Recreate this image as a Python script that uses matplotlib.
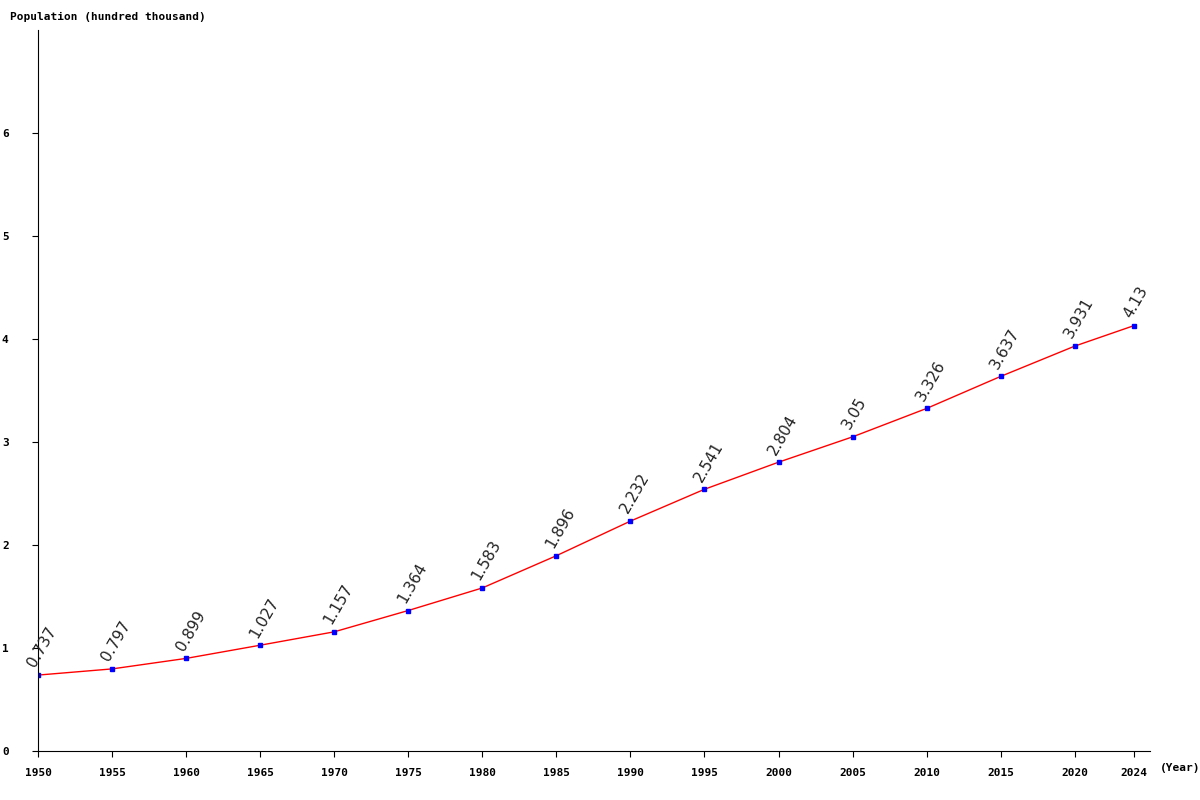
import matplotlib
matplotlib.use("Agg")
import matplotlib.pyplot as plt

years = [1950,1955,1960,1965,1970,1975,1980,1985,1990,1995,2000,2005,2010,2015,2020,2024]
values = [0.737,0.797,0.899,1.027,1.157,1.364,1.583,1.896,2.232,2.541,2.804,3.05,3.326,3.637,3.931,4.13]
labels = ["0.737","0.797","0.899","1.027","1.157","1.364","1.583","1.896","2.232","2.541","2.804","3.05","3.326","3.637","3.931","4.13"]

fig = plt.figure(figsize=(12,8), dpi=100)
ax = fig.add_axes([38/1200, 1-751/800, (1150-38)/1200, (751-30)/800])
ax.plot(years, values, color="red", lw=1)
ax.plot(years, values, "s", color="blue", ms=3.5)
for x, y, t in zip(years, values, labels):
    ax.text(x, y+0.05, t, rotation=60, fontsize=11, ha="left", va="bottom",
            family="DejaVu Sans", color="#222222", rotation_mode="anchor")
ax.set_xlim(1950, 2025.08)
ax.set_ylim(0, 7.0)
ax.set_xticks(years)
ax.set_yticks([0,1,2,3,4,5,6])
for s in ["top","right"]:
    ax.spines[s].set_visible(False)
ax.tick_params(labelsize=8, length=4)
for lab in ax.get_xticklabels()+ax.get_yticklabels():
    lab.set_family("DejaVu Sans Mono"); lab.set_fontweight("bold")
ax.tick_params(axis="x", pad=8)
ax.tick_params(axis="y", pad=22)
for lab in ax.get_yticklabels():
    lab.set_ha("left")
fig.text(10/1200, 1-17/800, "Population (hundred thousand)", fontsize=8,
         family="DejaVu Sans Mono", fontweight="bold", va="center")
fig.text(1160/1200, 1-768/800, "(Year)", fontsize=8,
         family="DejaVu Sans Mono", fontweight="bold", va="center")
fig.savefig("out.png")
